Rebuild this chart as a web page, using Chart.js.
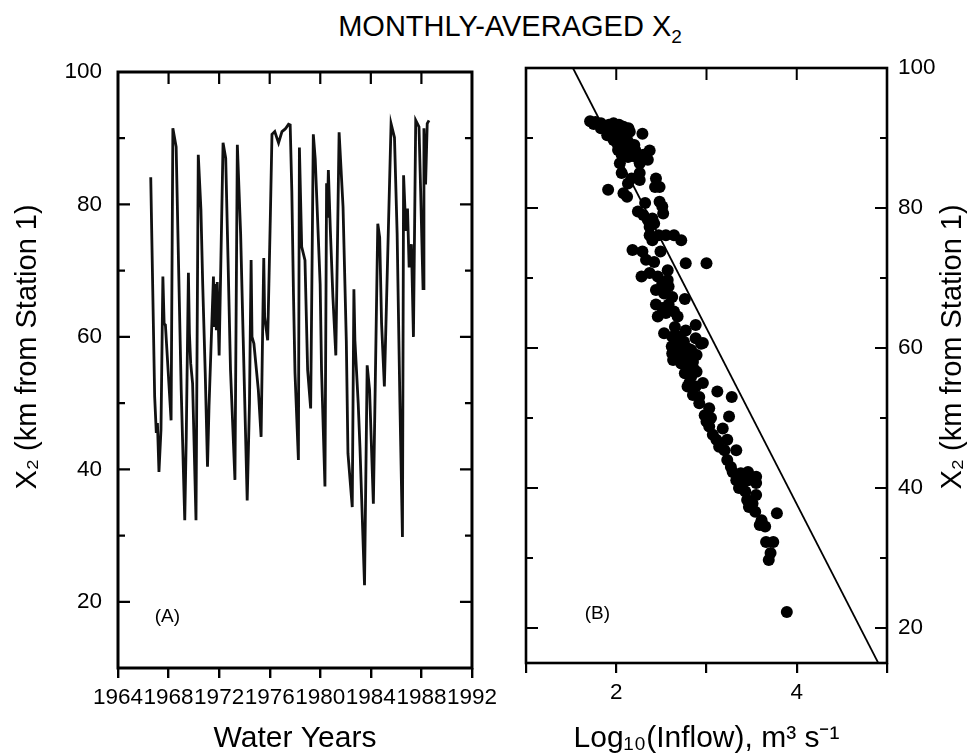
<!DOCTYPE html>
<html>
<head>
<meta charset="utf-8">
<script src="https://cdn.jsdelivr.net/npm/chart.js@4.4.1/dist/chart.umd.min.js"></script>
<style>
  html, body { margin: 0; padding: 0; background: #fff; overflow: hidden; }
  #page { position: relative; width: 974px; height: 754px; }
  #title { position: absolute; left: 0; width: 1020px; top: 10px; text-align: center;
           font: 29px "Liberation Sans", Arial, sans-serif; color: #000; }
  #title sub { font-size: 19px; }
  .panel { position: absolute; top: 0; height: 754px; }
  #boxA { left: 0; width: 503px; }
  #boxB { left: 490px; width: 484px; }
</style>
</head>
<body>
<div id="page">
  <div id="title">MONTHLY-AVERAGED X<sub>2</sub></div>
  <div class="panel" id="boxA"><canvas id="chartA"></canvas></div>
  <div class="panel" id="boxB"><canvas id="chartB"></canvas></div>
</div>
<script>
// (A) monthly-averaged X2 against water year
var years = [1966.59, 1966.9, 1967.03, 1967.12, 1967.24, 1967.4, 1967.55, 1967.65, 1967.75, 1967.9,
  1968.2, 1968.34, 1968.6, 1968.8, 1969.0, 1969.28, 1969.4, 1969.57, 1969.65, 1969.75,
  1969.9, 1970.17, 1970.35, 1970.56, 1970.7, 1970.9, 1971.08, 1971.2, 1971.35, 1971.55,
  1971.62, 1971.7, 1971.78, 1971.85, 1972.0, 1972.31, 1972.52, 1972.7, 1972.9, 1973.25,
  1973.44, 1973.7, 1973.9, 1974.22, 1974.4, 1974.53, 1974.6, 1974.75, 1974.9, 1975.1,
  1975.32, 1975.45, 1975.53, 1975.6, 1975.84, 1976.05, 1976.18, 1976.4, 1976.7, 1976.97,
  1977.23, 1977.49, 1977.62, 1977.75, 1977.88, 1978.0, 1978.27, 1978.35, 1978.53, 1978.79,
  1979.0, 1979.24, 1979.45, 1979.6, 1979.99, 1980.1, 1980.37, 1980.5, 1980.56, 1980.64,
  1980.8, 1981.0, 1981.23, 1981.49, 1981.8, 1982.06, 1982.19, 1982.53, 1982.66, 1982.74,
  1983.0, 1983.14, 1983.5, 1983.71, 1983.9, 1984.2, 1984.55, 1984.7, 1984.85, 1985.07,
  1985.6, 1985.87, 1986.08, 1986.3, 1986.5, 1986.59, 1986.77, 1986.9, 1987.03, 1987.21,
  1987.37, 1987.55, 1987.81, 1987.94, 1988.13, 1988.2, 1988.33, 1988.46, 1988.6];
var x2 = [84.1, 51, 45.5, 47, 39.6, 46, 69.1, 62, 61.8, 57,
  47.4, 91.5, 88.7, 70, 52, 32.3, 45, 69.7, 60.5, 56,
  53, 32.3, 87.5, 79.2, 68, 54.6, 40.4, 49.5, 58, 69.1,
  61.5, 68, 61, 68.3, 57.2, 89.3, 87, 72, 55, 38.4,
  89, 75.6, 60, 35.3, 50, 71.6, 60, 59, 56, 52,
  44.9, 62, 71.9, 63, 59.5, 78.1, 90.6, 91, 89.3, 91,
  91.4, 92.1, 92, 82, 66.5, 54.6, 41.4, 88.6, 73.6, 71.6,
  55, 49.2, 90.6, 86.9, 68, 55, 37.4, 83.2, 78, 85.2,
  76, 66, 57.2, 90.9, 79.7, 59.4, 42.4, 34.3, 67.2, 59.5,
  50, 43.3, 22.5, 55.7, 52, 34.8, 77.1, 75, 62, 52.5,
  92.2, 90.1, 75.6, 50, 29.8, 84.4, 76, 79.4, 70.5, 74,
  60, 92.7, 91.7, 82, 67.3, 91.5, 83, 92.2, 92.7];

// (B) X2 against log10 inflow
var logFlow = [1.71, 1.77, 1.83, 1.86, 1.92, 1.97, 2.03, 2.08, 2.135, 1.83,
  1.94, 2.01, 2.06, 2.15, 2.29, 1.97, 2.04, 2.13, 2.2, 1.9,
  2.02, 2.1, 2.21, 2.37, 2.06, 2.13, 2.22, 2.3, 2.35, 2.04,
  2.26, 2.06, 2.17, 2.26, 2.26, 2.13, 2.44, 2.48, 2.43, 1.91,
  2.08, 2.12, 2.32, 2.24, 2.3, 2.48, 2.51, 2.52, 2.35, 2.4,
  2.37, 2.42, 2.37, 2.4, 2.47, 2.55, 2.64, 2.72, 2.18, 2.29,
  2.49, 2.33, 2.42, 2.77, 3.0, 2.28, 2.37, 2.46, 2.57, 2.57,
  2.51, 2.58, 2.44, 2.53, 2.62, 2.76, 2.44, 2.51, 2.58, 2.46,
  2.55, 2.64, 2.68, 2.88, 2.53, 2.62, 2.7, 2.75, 2.88, 2.96,
  2.66, 2.73, 2.8, 2.85, 2.62,
  2.615, 2.67, 2.72, 2.78, 2.83, 2.89, 2.94, 2.63, 2.72, 2.8,
  2.85, 2.76, 2.83, 2.89, 2.81, 2.88, 2.96, 2.79, 2.85, 2.92,
  3.12, 3.28, 2.92, 3.03, 2.98, 3.05, 3.25, 3.0, 3.03, 3.18,
  3.07, 3.11, 3.23, 3.14, 3.2, 3.33, 3.23, 3.27, 3.29, 3.38,
  3.46, 3.55, 3.33, 3.4, 3.46, 3.55, 3.36, 3.43, 3.55, 3.45,
  3.51, 3.47, 3.54, 3.61, 3.65, 3.78, 3.59, 3.66, 3.74, 3.71,
  3.69, 3.89,
  1.75, 1.95, 2.0, 2.1, 2.68, 2.74, 2.86, 2.7, 2.65, 2.77];
var x2B = [92.4, 92.3, 92.1, 91.6, 91.9, 92.1, 91.9, 91.6, 91.4, 91.4,
  90.9, 90.7, 90.9, 90.9, 90.6, 89.7, 89.2, 89.5, 89.0, 90.4,
  88.3, 88.5, 88.3, 88.2, 87.6, 87.3, 87.3, 87.6, 86.9, 86.4,
  86.4, 85.0, 84.2, 85.0, 84.0, 83.5, 84.2, 83.0, 83.0, 82.6,
  82.1, 81.6, 80.7, 79.5, 79.0, 80.9, 80.2, 79.2, 78.3, 78.5,
  77.3, 77.8, 76.1, 75.4, 76.1, 76.1, 76.1, 75.4, 74.0, 73.8,
  73.8, 72.6, 72.3, 72.1, 72.1, 70.2, 70.7, 70.2, 71.1, 69.7,
  69.2, 68.8, 68.3, 67.8, 67.3, 67.0, 66.2, 65.7, 66.2, 64.5,
  65.0, 65.2, 64.5, 63.3, 62.1, 61.6, 61.6, 60.9, 61.4, 60.7,
  60.2, 59.7, 59.9, 59.2, 59.2,
  60.2, 59.2, 60.2, 59.2, 59.7, 59.0, 60.6, 58.3, 57.8, 57.3,
  58.0, 56.4, 55.9, 56.6, 55.0, 54.5, 55.0, 54.5, 53.3, 53.0,
  53.8, 53.0, 52.1, 51.4, 50.4, 50.0, 50.2, 49.5, 48.8, 48.5,
  47.6, 46.9, 46.9, 45.9, 45.4, 45.4, 44.0, 43.0, 42.3, 42.1,
  42.3, 41.6, 41.1, 40.7, 41.1, 40.7, 40.0, 39.5, 39.0, 38.3,
  37.8, 37.3, 36.6, 35.4, 34.5, 36.4, 34.7, 32.3, 32.3, 30.7,
  29.7, 22.3,
  92.0, 91.2, 91.0, 90.3, 58.8, 58.6, 57.0, 61.0, 63.0, 62.5];

// straight line drawn across panel B (end points where it meets the frame)
var fitX = [1.52, 4.9];
var fitY = [100, 15.1];

// axis ticks and labels
var yearTicks = [1964, 1968, 1972, 1976, 1980, 1984, 1988, 1992];
var kmTicksA = [10, 20, 30, 40, 50, 60, 70, 80, 90, 100];
var kmTicksB = [20, 30, 40, 50, 60, 70, 80, 90, 100];
var kmLabels = {20: '20', 40: '40', 60: '60', 80: '80', 100: '100'};
var flowTicks = [1, 2, 3, 4, 5];
var flowLabels = {2: '2', 4: '4'};

var sans = '"Liberation Sans", Arial, sans-serif';
Chart.defaults.color = '#000';
Chart.defaults.font.family = sans;

function pairs(xs, ys) {
  return xs.map(function (v, i) { return {x: v, y: ys[i]}; });
}
function setTicks(list) {
  return function (scale) { scale.ticks = list.map(function (v) { return {value: v}; }); };
}

// box, inward ticks on top/left/right, panel letter, rotated side title
var framePlugin = {
  id: 'frame',
  afterDatasetsDraw: function (chart, args, o) {
    var ctx = chart.ctx, a = chart.chartArea, xs = chart.scales.x, ys = chart.scales.y;
    ctx.save();
    ctx.strokeStyle = '#000';
    ctx.lineWidth = o.tickWidth;
    ctx.beginPath();
    xs.ticks.forEach(function (t) {
      var px = xs.getPixelForValue(t.value);
      if (px - a.left < 3 || a.right - px < 3) return;
      ctx.moveTo(px, a.top);
      ctx.lineTo(px, a.top + o.major);
    });
    ys.ticks.forEach(function (t) {
      var py = ys.getPixelForValue(t.value);
      if (py - a.top < 3 || a.bottom - py < 3) return;
      var len = t.value % 20 === 0 ? o.major : o.minor;
      ctx.moveTo(a.left, py); ctx.lineTo(a.left + len, py);
      ctx.moveTo(a.right, py); ctx.lineTo(a.right - len, py);
    });
    ctx.stroke();
    ctx.lineWidth = o.frameWidth;
    ctx.strokeRect(a.left, a.top, a.right - a.left, a.bottom - a.top);

    ctx.fillStyle = '#000';
    ctx.textAlign = 'center';
    ctx.textBaseline = 'middle';
    ctx.font = '19px ' + sans;
    ctx.fillText(o.letter, xs.getPixelForValue(o.letterAt[0]), ys.getPixelForValue(o.letterAt[1]));

    ctx.translate(o.sideX, o.sideY);
    ctx.rotate(-Math.PI / 2);
    ctx.font = '29px ' + sans;
    ctx.fillText('X\u2082 (km from Station 1)', 0, 0);
    ctx.restore();
  }
};

var tickFont = {size: 22.5, lineHeight: 1.2};
var titleFont = {size: 30, lineHeight: 1};

new Chart(document.getElementById('chartA'), {
  type: 'line',
  data: {
    datasets: [{
      data: pairs(years, x2),
      borderColor: '#111',
      borderWidth: 2.8,
      pointRadius: 0,
      tension: 0
    }]
  },
  plugins: [framePlugin],
  options: {
    animation: false,
    responsive: true,
    maintainAspectRatio: false,
    layout: {padding: {top: 72, right: 0, left: 0, bottom: 0}},
    plugins: {
      legend: {display: false},
      tooltip: {enabled: false},
      frame: {tickWidth: 2.2, frameWidth: 3, major: 12, minor: 7,
              letter: '(A)', letterAt: [1967.9, 17.8], sideX: 28, sideY: 347}
    },
    scales: {
      x: {
        type: 'linear', min: 1964, max: 1992,
        afterBuildTicks: setTicks(yearTicks),
        afterFit: function (s) { s.height = 86; },
        grid: {drawOnChartArea: false, drawTicks: true, tickLength: 10, color: '#000', lineWidth: 2.4},
        border: {display: false},
        ticks: {font: tickFont, padding: 6, autoSkip: false, maxRotation: 0, minRotation: 0,
                callback: function (v) { return String(v); }},
        title: {display: true, text: 'Water Years', font: titleFont, padding: {top: 0, bottom: 0}}
      },
      y: {
        type: 'linear', min: 10, max: 100,
        afterBuildTicks: setTicks(kmTicksA),
        afterFit: function (s) { s.width = 118; },
        grid: {display: false, drawTicks: false},
        border: {display: false},
        ticks: {font: tickFont, padding: 16, callback: function (v) { return kmLabels[v] || ''; }}
      }
    }
  }
});

new Chart(document.getElementById('chartB'), {
  type: 'scatter',
  data: {
    datasets: [{
      data: pairs(logFlow, x2B),
      backgroundColor: '#000',
      borderWidth: 0,
      pointRadius: 6
    }, {
      type: 'line',
      data: pairs(fitX, fitY),
      borderColor: '#000',
      borderWidth: 1.8,
      pointRadius: 0
    }]
  },
  plugins: [framePlugin],
  options: {
    animation: false,
    responsive: true,
    maintainAspectRatio: false,
    layout: {padding: {top: 68, right: 0, left: 36, bottom: 0}},
    plugins: {
      legend: {display: false},
      tooltip: {enabled: false},
      frame: {tickWidth: 2, frameWidth: 2.6, major: 12, minor: 7,
              letter: '(B)', letterAt: [1.79, 22.0], sideX: 463, sideY: 347}
    },
    scales: {
      x: {
        type: 'linear', min: 1, max: 5,
        afterBuildTicks: setTicks(flowTicks),
        afterFit: function (s) { s.height = 91; },
        grid: {drawOnChartArea: false, drawTicks: true, tickLength: 10, color: '#000', lineWidth: 2.2},
        border: {display: false},
        ticks: {font: tickFont, padding: 6, autoSkip: false, maxRotation: 0, minRotation: 0,
                callback: function (v) { return flowLabels[v] || ''; }},
        title: {display: true, text: 'Log\u2081\u2080(Inflow), m\u00b3 s\u207b\u00b9', font: titleFont,
                padding: {top: 0, bottom: 0}}
      },
      y: {
        type: 'linear', position: 'right', min: 15, max: 100,
        afterBuildTicks: setTicks(kmTicksB),
        afterFit: function (s) { s.width = 87; },
        grid: {display: false, drawTicks: false},
        border: {display: false},
        ticks: {font: tickFont, padding: 11, callback: function (v) { return kmLabels[v] || ''; }}
      }
    }
  }
});
</script>
</body>
</html>
